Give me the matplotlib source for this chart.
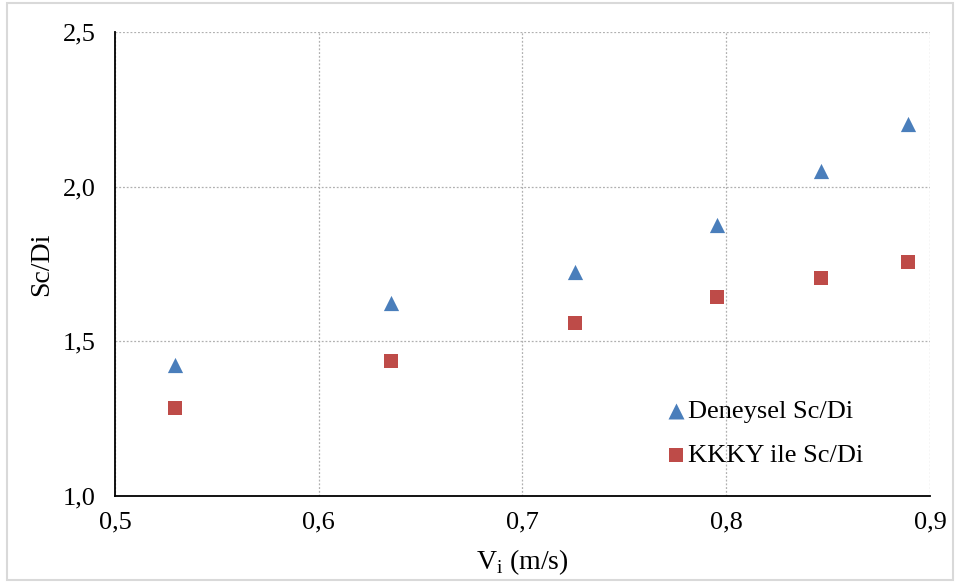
import matplotlib
matplotlib.use("Agg")
import matplotlib.pyplot as plt
from matplotlib.patches import Rectangle
from matplotlib.ticker import FuncFormatter

plt.rcParams['font.family'] = ['Liberation Serif', 'DejaVu Serif']

# Flow velocity (m/s)
vi = [0.5295, 0.6355, 0.7258, 0.7955, 0.8465, 0.8892]
# Scour depth ratios
sc_deneysel = [1.423, 1.624, 1.724, 1.876, 2.051, 2.203]
sc_kkky = [1.285, 1.436, 1.559, 1.643, 1.705, 1.757]

x_ticks = [0.5, 0.6, 0.7, 0.8, 0.9]
y_ticks = [1.0, 1.5, 2.0, 2.5]

fig = plt.figure(figsize=(9.56, 5.87), dpi=100)
ax = fig.add_axes([115 / 956, 1 - 496 / 587, 815 / 956, 464 / 587])

ax.scatter(vi, sc_deneysel, marker='^', s=120, color='#4a7ebb', linewidths=0,
           label='Deneysel Sc/Di', zorder=3)
ax.scatter(vi, sc_kkky, marker='s', s=100, color='#be4b48', linewidths=0,
           label='KKKY ile Sc/Di', zorder=3)

ax.set_xlim(0.5, 0.9)
ax.set_ylim(1.0, 2.5)
ax.set_xticks(x_ticks)
ax.set_yticks(y_ticks)
comma = FuncFormatter(lambda v, p: f"{v:.1f}".replace('.', ','))
ax.xaxis.set_major_formatter(comma)
ax.yaxis.set_major_formatter(comma)
ax.tick_params(axis='both', length=0, labelsize=19, colors='black')
ax.tick_params(axis='x', pad=11)
ax.tick_params(axis='y', pad=14)

ax.grid(True, color='#b0b0b0', linestyle=(0, (1.5, 1.5)), linewidth=0.9)
ax.set_axisbelow(True)
for side in ('top', 'right'):
    ax.spines[side].set_visible(False)
for side in ('left', 'bottom'):
    ax.spines[side].set_linewidth(1.3)
    ax.spines[side].set_color('black')

ax.set_xlabel(r'V$_\mathregular{i}$ (m/s)', fontsize=20, labelpad=10)
ax.set_ylabel('Sc/Di', fontsize=20, labelpad=6)

ax.legend(loc='upper left', bbox_to_anchor=(0.6755, 0.207), frameon=False,
          fontsize=19, handlelength=0.8, handletextpad=0.05,
          labelspacing=0.75, markerscale=1.05, borderpad=0, borderaxespad=0)

fig.patches.append(Rectangle((7 / 956, 7 / 587), 946 / 956, 577 / 587,
                             transform=fig.transFigure, fill=False,
                             edgecolor='#d9d9d9', linewidth=1.5))

fig.savefig('out.png', dpi=100)
